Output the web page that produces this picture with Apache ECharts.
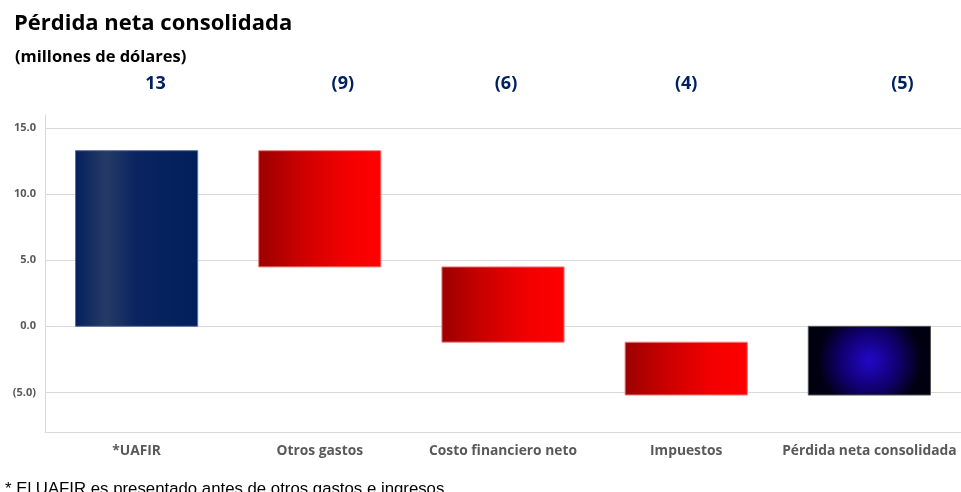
<!DOCTYPE html>
<html><head><meta charset="utf-8">
<script src="https://cdn.jsdelivr.net/npm/echarts@6/dist/echarts.min.js"></script>
<style>html,body{margin:0;padding:0;background:#fff}#c{width:961px;height:492px}</style>
</head><body><div id="c"></div>
<script>
const categories = ['*UAFIR', 'Otros gastos', 'Costo financiero neto', 'Impuestos', 'Pérdida neta consolidada'];
const barStart = [0, 13.3, 4.5, -1.2, 0];
const barEnd = [13.3, 4.5, -1.2, -5.2, -5.2];
const topLabels = ['13', '(9)', '(6)', '(4)', '(5)'];
const yTicks = [-5, 0, 5, 10, 15];

const labelShift = [19, 23, 3, 0, 33];
const FONT = '"Open Sans", Lato, sans-serif';

function fillFor(i) {
  if (i === 0) {
    return new echarts.graphic.LinearGradient(0, 0, 1, 0, [
      {offset: 0, color: '#03215e'}, {offset: 0.25, color: '#263a66'},
      {offset: 0.5, color: '#0a2460'}, {offset: 1, color: '#001f5c'}]);
  }
  if (i === 4) {
    return new echarts.graphic.RadialGradient(0.5, 0.5, 0.75, [
      {offset: 0, color: '#2208c8'}, {offset: 0.55, color: '#100070'}, {offset: 1, color: '#000010'}]);
  }
  return new echarts.graphic.LinearGradient(0, 0, 1, 0, [
    {offset: 0, color: '#9c0000'}, {offset: 0.35, color: '#cc0000'},
    {offset: 0.7, color: '#f20000'}, {offset: 1, color: '#ff0000'}]);
}
function strokeFor(i) { return i === 0 ? '#5a6f9a' : (i === 4 ? '#555555' : '#f08080'); }

const chart = echarts.init(document.getElementById('c'));
chart.setOption({
  animation: false,
  title: [
    {text: 'Pérdida neta consolidada', left: 9, top: 8,
     textStyle: {fontFamily: FONT, fontWeight: 'bold', fontSize: 22, color: '#000'}},
    {text: '(millones de dólares)', left: 10, top: 44,
     textStyle: {fontFamily: FONT, fontWeight: 'bold', fontSize: 16.5, color: '#000'}},
    {text: '* El UAFIR es presentado antes de otros gastos e ingresos.', left: 0, top: 476,
     textStyle: {fontFamily: '"Liberation Sans", Arial, sans-serif', fontWeight: 'normal', fontSize: 16.8, color: '#000'}}
  ],
  grid: {left: 45, right: 0, top: 115, bottom: 60},
  xAxis: {
    type: 'category', data: categories,
    axisLine: {onZero: false, lineStyle: {color: '#d9d9d9'}},
    axisTick: {show: false},
    axisLabel: {margin: 12, fontFamily: FONT, fontWeight: 'bold', fontSize: 13.8, color: '#595959', interval: 0}
  },
  yAxis: {
    type: 'value', min: -8, max: 16,
    axisLine: {show: true, lineStyle: {color: '#d9d9d9'}},
    axisTick: {show: false, customValues: yTicks},
    axisLabel: {customValues: yTicks, margin: 9, fontFamily: FONT, fontWeight: 'bold', fontSize: 11, color: '#595959',
      formatter: v => v < 0 ? '(' + Math.abs(v).toFixed(1) + ')' : v.toFixed(1)},
    splitLine: {show: true, lineStyle: {color: '#d9d9d9'}}
  },
  series: [
    {
      type: 'custom',
      data: categories.map((c, i) => [i, barStart[i], barEnd[i]]),
      encode: {x: 0, y: [1, 2]},
      renderItem: function (params, api) {
        const i = api.value(0);
        const a = api.coord([i, api.value(1)]);
        const b = api.coord([i, api.value(2)]);
        const w = api.size([1, 0])[0] * 0.667;
        const y0 = Math.min(a[1], b[1]);
        const h = Math.abs(a[1] - b[1]);
        return {type: 'rect', shape: {x: a[0] - w / 2, y: y0, width: w, height: h},
          style: {fill: fillFor(i), stroke: strokeFor(i), lineWidth: 1}};
      }
    },
    {
      type: 'scatter', symbolSize: 0, silent: true,
      itemStyle: {opacity: 1},
      data: categories.map((c, i) => ({value: [i, 16],
        label: {offset: [labelShift[i], 0]}})),
      label: {show: true, position: 'top', distance: 22, opacity: 1,
        formatter: p => topLabels[p.dataIndex],
        fontFamily: FONT, fontWeight: 'bold', fontSize: 18, color: '#002060'}
    }
  ]
});
</script></body></html>
